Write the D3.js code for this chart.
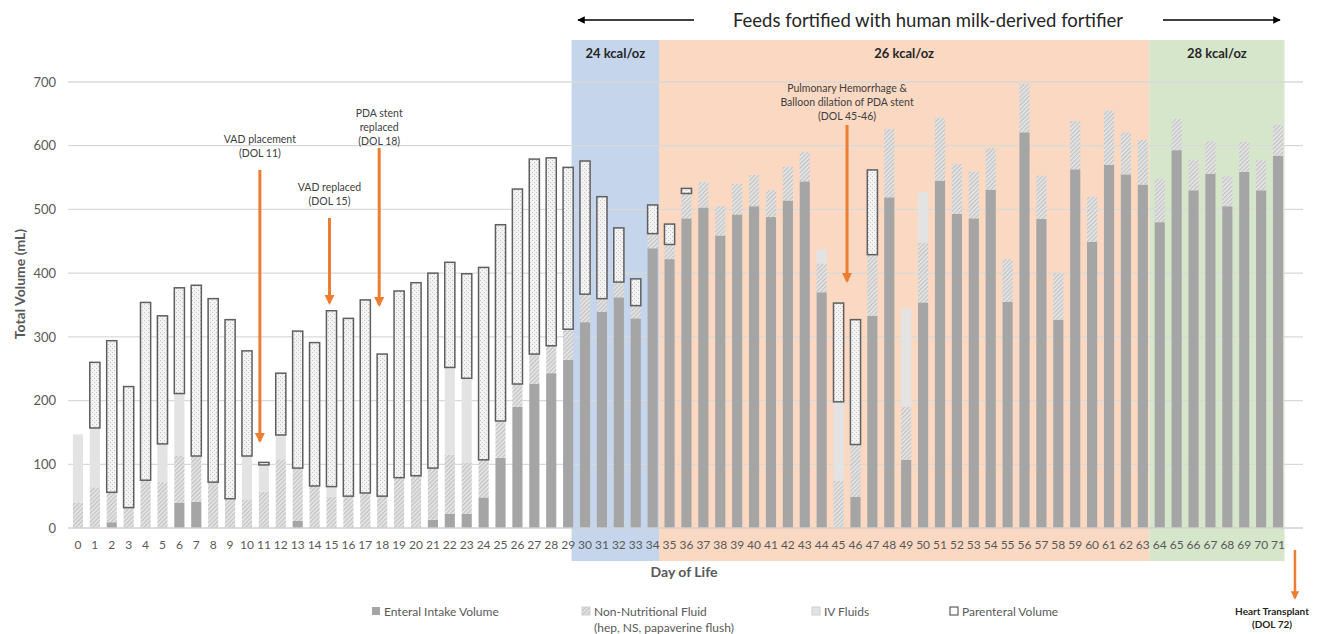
<!DOCTYPE html>
<html>
<head>
<meta charset="utf-8">
<script src="https://cdn.jsdelivr.net/npm/d3@7/dist/d3.min.js"></script>
<style>
  body { margin: 0; background: #fff; }
  text { font-family: Lato, "Open Sans", sans-serif; }
</style>
</head>
<body>
<svg id="chart" width="1319" height="634"></svg>
<script>
// Day of life 0..71, volumes in mL
var days = d3.range(0, 72);
var enteral = [0,0,9,0,0,0,40,41,0,0, 0,0,0,11,0,0,0,0,0,0,
  0,13,22,22,48,110,190,226,243,264, 323,339,362,329,439,422,486,503,459,492,
  505,488,514,544,370,0,49,333,519,107, 354,545,493,486,531,355,621,485,327,563,
  449,570,555,539,480,593,530,556,505,559, 530,584];
var nonNutritional = [40,64,47,32,75,72,73,72,72,46, 44,57,108,83,66,49,50,55,50,79,
  82,81,93,81,59,58,36,47,43,48, 44,21,24,20,23,23,39,40,46,48,
  49,42,53,46,45,74,82,96,107,83, 94,99,78,73,65,67,76,68,73,76,
  71,85,66,70,68,49,47,51,47,47, 47,49];
var ivFluids = [107,93,0,0,0,60,98,0,0,0, 69,42,38,0,0,16,0,0,0,0,
  0,0,137,132,0,0,0,0,0,0, 0,0,0,0,0,0,0,0,0,0,
  0,0,0,0,22,124,0,0,0,155, 79,0,0,0,0,0,0,0,0,0,
  0,0,0,0,0,0,0,0,0,0, 0,0];
var parenteral = [0,103,238,190,279,201,166,268,288,281, 165,4,97,215,225,276,279,303,223,293,
  303,306,165,164,302,308,306,306,295,254, 209,160,85,42,45,32,8,0,0,0,
  0,0,0,0,0,155,196,133,0,0, 0,0,0,0,0,0,0,0,0,0,
  0,0,0,0,0,0,0,0,0,0, 0,0];
var yTicks = [0, 100, 200, 300, 400, 500, 600, 700];
var phaseLabels = ["24 kcal/oz", "26 kcal/oz", "28 kcal/oz"];
var phaseStart = [30, 35, 64];
var phaseEnd = [34, 63, 71];
var seriesNames = ["Enteral Intake Volume", "Non-Nutritional Fluid", "IV Fluids", "Parenteral Volume"];

var svg = d3.select("#chart");
var plot = {left: 69.5, right: 1286.5, top: 82, bottom: 528};

var x = d3.scaleBand()
  .domain(days)
  .range([plot.left, plot.right])
  .paddingInner(0.4)
  .paddingOuter(0.2);
var y = d3.scaleLinear().domain([0, 700]).range([plot.bottom, plot.top]);
var step = x.step();

// fill patterns
var defs = svg.append("defs");
var hatch = defs.append("pattern").attr("id", "hatch")
  .attr("patternUnits", "userSpaceOnUse").attr("width", 3).attr("height", 3)
  .attr("patternTransform", "rotate(45)");
hatch.append("rect").attr("width", 3).attr("height", 3).attr("fill", "#e8e8e8");
hatch.append("line").attr("x1", 0.75).attr("y1", 0).attr("x2", 0.75).attr("y2", 3)
  .attr("stroke", "#b9b9b9").attr("stroke-width", 1.1);
var dots = defs.append("pattern").attr("id", "dots")
  .attr("patternUnits", "userSpaceOnUse").attr("width", 4).attr("height", 4);
dots.append("rect").attr("width", 4).attr("height", 4).attr("fill", "#f3f3f3");
dots.append("rect").attr("x", 0).attr("y", 0).attr("width", 1).attr("height", 1).attr("fill", "#c4c4c4");
dots.append("rect").attr("x", 2).attr("y", 2).attr("width", 1).attr("height", 1).attr("fill", "#c4c4c4");

var fills = ["#a5a5a5", "url(#hatch)", "#e3e3e3", "url(#dots)"];

// phase shading
var phaseColors = ["#c5d5ec", "#fad8c2", "#d6e6cb"];
phaseLabels.forEach(function(label, i) {
  var x0 = x(phaseStart[i]) - step * x.paddingInner() / 2 - (i == 0 ? 5 : 2);
  var x1 = x(phaseEnd[i]) + x.bandwidth() + step * x.paddingInner() / 2 - 2;
  svg.append("rect")
    .attr("x", x0).attr("y", 40)
    .attr("width", x1 - x0).attr("height", 521)
    .attr("fill", phaseColors[i]);
  svg.append("text")
    .attr("x", (x0 + x1) / 2).attr("y", 58)
    .attr("text-anchor", "middle")
    .style("font-size", "13px").style("font-weight", "bold")
    .style("fill", "#262626")
    .text(label);
});

// gridlines
svg.append("g").selectAll("line")
  .data(yTicks.slice(1))
  .enter().append("line")
  .attr("x1", 68).attr("x2", 1303)
  .attr("y1", function(d) { return y(d); })
  .attr("y2", function(d) { return y(d); })
  .attr("stroke", "#d9d9d9").attr("stroke-width", 1.3);

// y axis labels
var yAxis = d3.axisLeft(y).tickValues(yTicks).tickSize(0).tickPadding(0);
var gy = svg.append("g").attr("transform", "translate(56,0)").call(yAxis);
gy.select(".domain").remove();
gy.selectAll("text").style("font-size", "13px").style("fill", "#595959")
  .style("font-family", "Lato, sans-serif");

// stacked bars
var table = days.map(function(d, i) {
  return {day: d, s0: enteral[i], s1: nonNutritional[i], s2: ivFluids[i], s3: parenteral[i]};
});
var stack = d3.stack().keys(["s0", "s1", "s2", "s3"]);
var layers = stack(table);

layers.forEach(function(layer, k) {
  svg.append("g").selectAll("rect")
    .data(layer.filter(function(d) { return d[1] - d[0] > 0; }))
    .enter().append("rect")
    .attr("x", function(d) { return x(d.data.day); })
    .attr("width", x.bandwidth())
    .attr("y", function(d) { return y(d[1]); })
    .attr("height", function(d) { return y(d[0]) - y(d[1]); })
    .attr("fill", fills[k])
    .attr("stroke", k == 3 ? "#5f5f5f" : "none")
    .attr("stroke-width", k == 3 ? 1.5 : 0);
});

// x axis baseline and labels
svg.append("line")
  .attr("x1", 68).attr("x2", 1303)
  .attr("y1", y(0)).attr("y2", y(0))
  .attr("stroke", "#d0d0d0").attr("stroke-width", 1.3);
var xAxis = d3.axisBottom(x).tickSize(0).tickPadding(0);
var gx = svg.append("g").attr("transform", "translate(0,542)").call(xAxis);
gx.select(".domain").remove();
gx.selectAll("text").attr("dy", "0.6em")
  .style("font-size", "12px").style("fill", "#595959")
  .style("font-family", "Lato, sans-serif");

// axis titles
svg.append("text")
  .attr("x", 684).attr("y", 577)
  .attr("text-anchor", "middle")
  .style("font-size", "14px").style("font-weight", "bold").style("fill", "#595959")
  .text("Day of Life");
svg.append("text")
  .attr("transform", "translate(25,284) rotate(-90)")
  .attr("text-anchor", "middle")
  .style("font-size", "14px").style("font-weight", "bold").style("fill", "#595959")
  .text("Total Volume (mL)");

// title with arrows
svg.append("text")
  .attr("x", 928).attr("y", 27)
  .attr("text-anchor", "middle")
  .style("font-size", "18.5px").style("fill", "#262626")
  .text("Feeds fortified with human milk-derived fortifier");
defs.append("marker").attr("id", "blackHead")
  .attr("viewBox", "0 0 10 10").attr("refX", 9).attr("refY", 5)
  .attr("markerWidth", 5).attr("markerHeight", 5).attr("orient", "auto")
  .append("path").attr("d", "M0,0L10,5L0,10Z").attr("fill", "#000");
[[694, 578], [1163, 1280]].forEach(function(a) {
  svg.append("line")
    .attr("x1", a[0]).attr("x2", a[1]).attr("y1", 20).attr("y2", 20)
    .attr("stroke", "#000").attr("stroke-width", 1.5)
    .attr("marker-end", "url(#blackHead)");
});

// event annotations (orange arrows)
defs.append("marker").attr("id", "orangeHead")
  .attr("viewBox", "0 0 10 10").attr("refX", 8).attr("refY", 5)
  .attr("markerWidth", 3.4).attr("markerHeight", 3.4).attr("orient", "auto")
  .append("path").attr("d", "M0,0L10,5L0,10Z").attr("fill", "#ed7d31");

var events = [
  {day: 11, dx: -4, lines: ["VAD placement", "(DOL 11)"], textY: 143, from: 170, to: 441},
  {day: 15, dx: -2, lines: ["VAD replaced", "(DOL 15)"], textY: 191, from: 218, to: 303},
  {day: 18, dx: -3, lines: ["PDA stent", "replaced", "(DOL 18)"], textY: 117, from: 148, to: 305},
  {day: 45.5, dx: 0, lines: ["Pulmonary Hemorrhage &", "Balloon dilation of PDA stent", "(DOL 45-46)"], textY: 92, from: 125, to: 281}
];
events.forEach(function(e) {
  var cx = plot.left + step * x.paddingOuter() + step * e.day + x.bandwidth() / 2 + e.dx;
  e.lines.forEach(function(t, i) {
    svg.append("text")
      .attr("x", cx).attr("y", e.textY + i * 14)
      .attr("text-anchor", "middle")
      .style("font-size", "10.5px").style("fill", "#404040")
      .text(t);
  });
  svg.append("line")
    .attr("x1", cx).attr("x2", cx).attr("y1", e.from).attr("y2", e.to)
    .attr("stroke", "#ed7d31").attr("stroke-width", 3)
    .attr("marker-end", "url(#orangeHead)");
});

// heart transplant (DOL 72), just past the last bar
var htX = x(71) + step + x.bandwidth() / 2;
svg.append("line")
  .attr("x1", htX).attr("x2", htX).attr("y1", 550).attr("y2", 598)
  .attr("stroke", "#ed7d31").attr("stroke-width", 2.5)
  .attr("marker-end", "url(#orangeHead)");
["Heart Transplant", "(DOL 72)"].forEach(function(t, i) {
  svg.append("text")
    .attr("x", 1272).attr("y", 615 + i * 13)
    .attr("text-anchor", "middle")
    .style("font-size", "10px").style("font-weight", "bold").style("fill", "#262626")
    .text(t);
});

// legend
var legendX = [372, 582, 812, 950];
var legendFills = ["#a5a5a5", "url(#hatch)", "#e3e3e3", "#ffffff"];
seriesNames.forEach(function(name, i) {
  svg.append("rect")
    .attr("x", legendX[i]).attr("y", 607)
    .attr("width", 8).attr("height", 8)
    .attr("fill", legendFills[i])
    .attr("stroke", i == 3 ? "#404040" : (i == 0 ? "none" : "#cfcfcf"))
    .attr("stroke-width", 1);
  svg.append("text")
    .attr("x", legendX[i] + 12).attr("y", 616)
    .style("font-size", "12px").style("fill", "#595959")
    .text(name);
});
svg.append("text")
  .attr("x", legendX[1] + 12).attr("y", 632)
  .style("font-size", "12px").style("fill", "#595959")
  .text("(hep, NS, papaverine flush)");
</script>
</body>
</html>
